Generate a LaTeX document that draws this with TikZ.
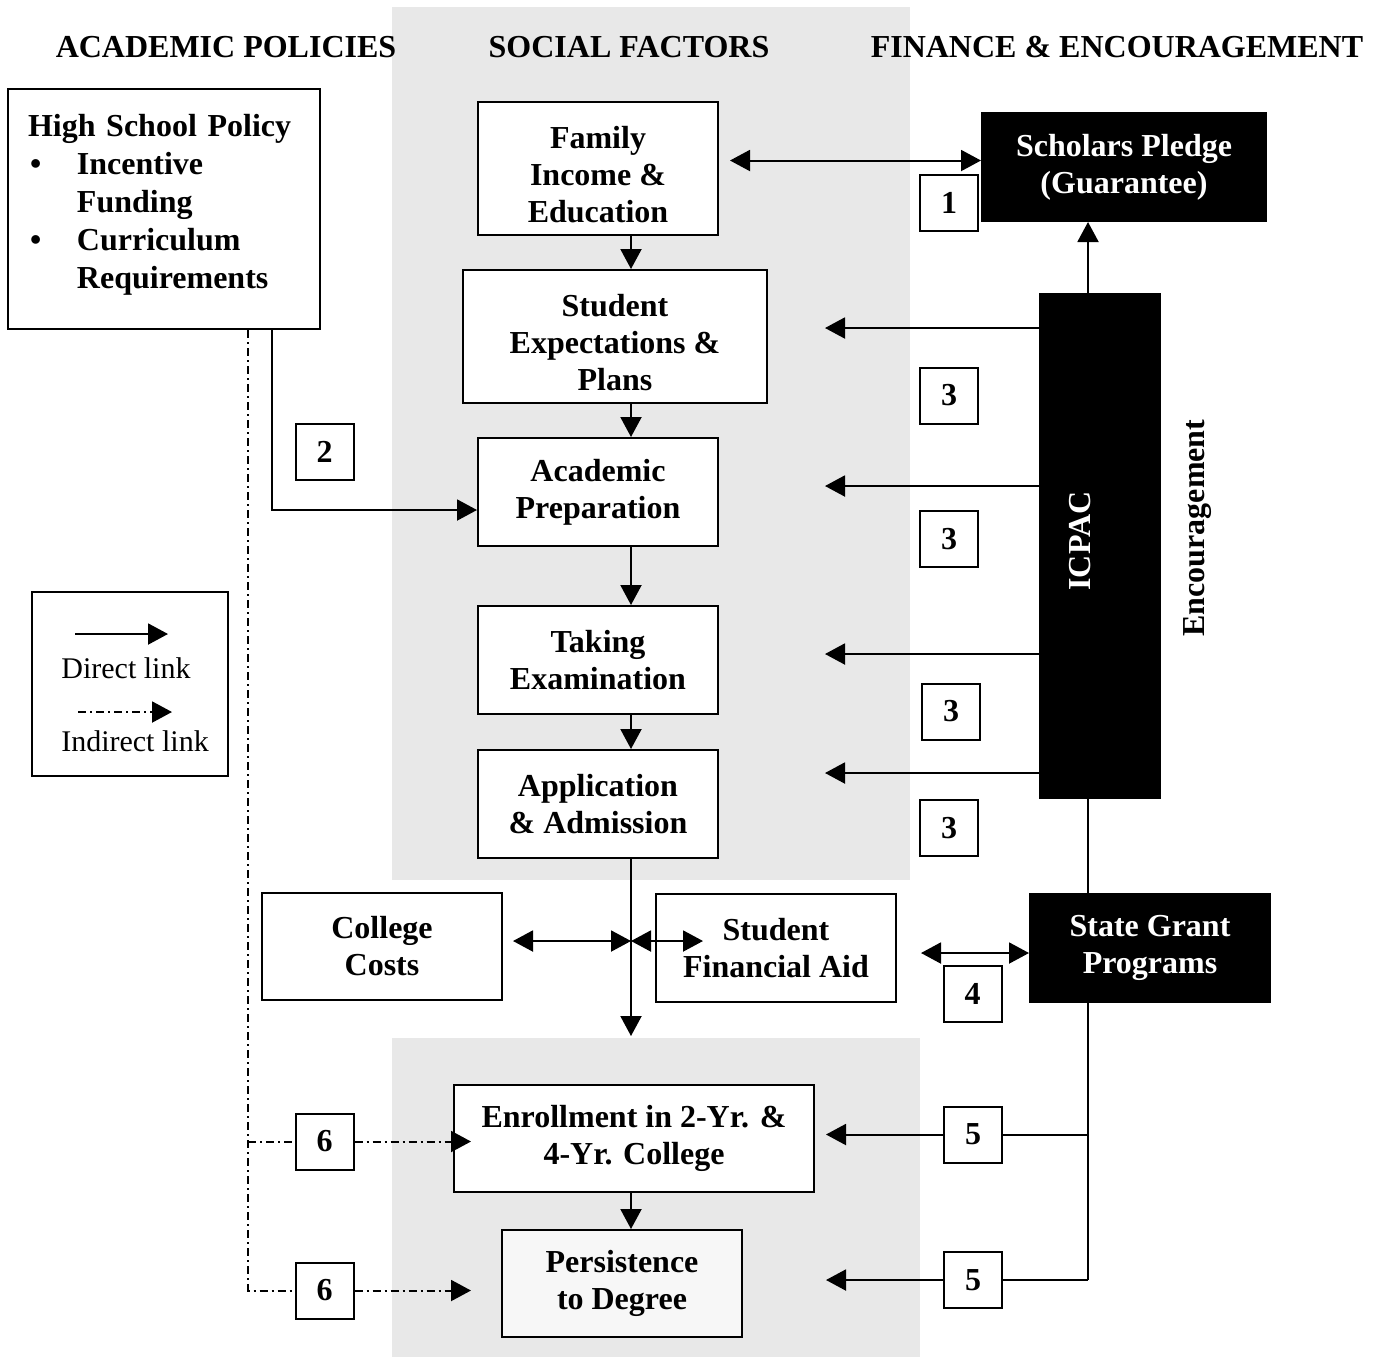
\documentclass[tikz,border=0pt]{standalone}
\usepackage{fontspec}
\setmainfont{Liberation Serif}
\usetikzlibrary{arrows.meta}
\definecolor{gris}{HTML}{E8E8E8}
\definecolor{grisclair}{HTML}{F7F7F7}

\begin{document}
\begin{tikzpicture}[x=0.5pt, y=-0.5pt, line width=1pt, % une unite = un pixel
  font=\fontsize{16}{18.5}\selectfont\bfseries,
  >={Triangle[length=10pt,width=10.5pt]},
  boite/.style={draw, fill=white, align=center, inner sep=0pt},
  noire/.style={draw, fill=black, text=white, align=center, inner sep=0pt},
  num/.style={draw, fill=white, minimum width=29pt, minimum height=28pt, inner sep=0pt},
  indir/.style={dash pattern=on 4pt off 2pt on 1pt off 2pt}]
% Cadre de l'image
\useasboundingbox (0,0) rectangle (1382,1357);
% Fonds gris
\fill[gris] (392,7) rectangle (910,880);
\fill[gris] (392,1038) rectangle (920,1357);

% Titres des colonnes
\node (hacad) at (226,47) {ACADEMIC POLICIES};
\node (hsoc) at (629,47) {SOCIAL FACTORS};
\node (hfin) at (1117,47) {FINANCE \& ENCOURAGEMENT};

% Politique du lycee
\node[draw, fill=white, minimum width=156pt, minimum height=120pt,
  label={[align=left, text width=136pt, inner sep=0pt, yshift=2pt,
    font=\fontsize{16}{19}\selectfont\bfseries]center:
   High School Policy\\
   \makebox[24.5pt][l]{\hspace{1pt}\textbullet}Incentive\\
   \hspace{24.5pt}Funding\\
   \makebox[24.5pt][l]{\hspace{1pt}\textbullet}Curriculum\\
   \hspace{24.5pt}Requirements}] (hsp) at (164,209) {};

% Facteurs sociaux
\node[boite, minimum width=120pt, minimum height=66.5pt,
  label={[align=center, yshift=-3.25pt]center:Family\\Income \&\\Education}] (fam) at (598,168.5) {};
\node[boite, minimum width=152pt, minimum height=66.5pt,
  label={[align=center, yshift=-3.25pt]center:Student\\Expectations \&\\Plans}] (exp) at (615,336.5) {};
\node[boite, minimum width=120pt, minimum height=54pt] (acad) at (598,492) {Academic\\Preparation};
\node[boite, minimum width=120pt, minimum height=54pt] (exam) at (598,660) {Taking\\Examination};
\node[boite, minimum width=120pt, minimum height=54pt] (appl) at (598,804) {Application\\\& Admission};
\node[boite, minimum width=120pt, minimum height=53.5pt] (cost) at (382,946.5) {College\\Costs};
\node[boite, minimum width=120pt, minimum height=54pt] (aid) at (776,948) {Student\\Financial Aid};
\node[boite, minimum width=180pt, minimum height=53.5pt] (enrol) at (634,1138.5) {Enrollment in 2-Yr. \&\\4-Yr. College};
\node[boite, fill=grisclair, minimum width=120pt, minimum height=53.5pt] (pers) at (622,1283.5) {Persistence\\to Degree};

% Finances et encouragement
\node[noire, minimum width=142pt, minimum height=54pt] (sch) at (1124,167) {Scholars Pledge\\(Guarantee)};
\node[noire, minimum width=60pt, minimum height=252pt] (icpac) at (1100,546) {};
\node[rotate=90, text=white] (icpactxt) at (1080,541) {ICPAC};
\node[rotate=90] (enc) at (1198,528) {Encouragement};
\node[noire, minimum width=120pt, minimum height=54pt] (sgp) at (1150,948) {State Grant\\Programs};

% Les numeros
\node[num] (n1) at (949,202.5) {1};
\node[num] (n2) at (324.5,452) {2};
\node[num] (n3a) at (949,395.5) {3};
\node[num] (n3b) at (949,539) {3};
\node[num] (n3c) at (951,711.5) {3};
\node[num] (n3d) at (949,828) {3};
\node[num] (n4) at (972.5,994) {4};
\node[num] (n5a) at (973,1134.5) {5};
\node[num] (n5b) at (973,1280) {5};
\node[num] (n6a) at (324.5,1141.5) {6};
\node[num] (n6b) at (324.5,1290.5) {6};

% Axes des fleches
\coordinate (axe) at (631,0);
\coordinate (rail) at (1088,0);
\coordinate (dir) at (272,0);
\coordinate (ind) at (248,0);
\coordinate (croix) at (631,941);
\coordinate (bas) at (631,1036);

% La colonne centrale
\draw[->] (fam.south -| axe) -- (exp.north -| axe);
\draw[->] (exp.south -| axe) -- (acad.north -| axe);
\draw[->] (acad.south -| axe) -- (exam.north -| axe);
\draw[->] (exam.south -| axe) -- (appl.north -| axe);
\draw[->] (appl.south -| axe) -- (bas);
\draw[->] (enrol.south -| axe) -- (pers.north -| axe);
\draw[<->] ([xshift=5pt]croix -| cost.east) -- (croix);
\draw[<->] (croix) -- ([xshift=24pt]croix -| aid.west);

% Lien 1
\draw[<->] ([shift={(5.5pt,4pt)}]fam.east) -- ([yshift=4pt]fam.east -| sch.west);
% ICPAC vers la garantie et les etapes (3)
\draw[->] (icpac.north -| rail) -- (sch.south -| rail);
\foreach \y [count=\i] in {328,486,654,773}{
  \coordinate (f\i) at (825,\y);
  \draw[->] (icpac.west |- f\i) -- (f\i);
}
% Lien 4
\draw[<->] ([shift={(12pt,-2.5pt)}]aid.east) -- ([yshift=-2.5pt]sgp.west);
% Lien 5
\coordinate (t5) at ([xshift=5.5pt]enrol.east);
\draw (icpac.south -| rail) -- (sgp.north -| rail);
\draw (sgp.south -| rail) -- (rail |- n5b);
\draw (rail |- n5a) -- (n5a.east);
\draw (rail |- n5b) -- (n5b.east);
\draw[->] (n5a.west) -- (n5a -| t5);
\draw[->] (n5b.west) -- (n5b -| t5);

% Lien 2 (direct)
\draw[->] (hsp.south -| dir) |- ([yshift=-9pt]acad.west);
% Lien 6 (indirect)
\coordinate (t6) at ([xshift=9pt]enrol.west);
\draw[indir] (hsp.south -| ind) |- (n6b.west);
\draw[indir] (ind |- n6a) -- (n6a.west);
\draw[indir, ->] (n6a.east) -- (n6a -| t6);
\draw[indir, ->] (n6b.east) -- (n6b -| t6);

% Legende
\node[draw, minimum width=98pt, minimum height=92pt] (leg) at (130,684) {};
\coordinate (d1) at (75,634);
\coordinate (d2) at (168,634);
\coordinate (i1) at (78,712);
\coordinate (i2) at (172,712);
\draw[->] (d1) -- (d2);
\draw[indir, ->] (i1) -- (i2);
\node[font=\fontsize{15}{18}\selectfont] (ldir) at (126,668) {Direct link};
\node[font=\fontsize{15}{18}\selectfont] (lind) at (135,741) {Indirect link};
\end{tikzpicture}
\end{document}
